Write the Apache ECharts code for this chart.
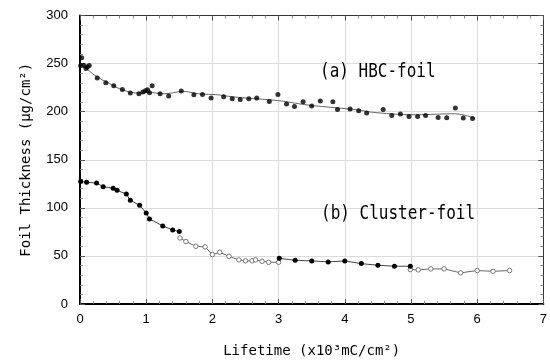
<!DOCTYPE html>
<html><head><meta charset="utf-8">
<script src="https://cdn.jsdelivr.net/npm/echarts@6/dist/echarts.min.js"></script>
<style>html,body{margin:0;padding:0;background:#fff}#c{width:550px;height:363px}</style>
</head><body><div id="c"></div>
<script>
// (a) HBC-foil measured points
const hbcX = [0.025,0.01,0.06,0.09,0.11,0.14,0.26,0.39,0.51,0.64,0.76,0.89,0.95,0.99,1.02,1.05,1.09,1.21,1.34,1.53,1.72,1.85,1.98,2.17,2.30,2.42,2.55,2.67,2.86,2.99,3.12,3.24,3.37,3.50,3.63,3.82,3.89,4.08,4.21,4.33,4.58,4.71,4.84,4.97,5.10,5.22,5.41,5.54,5.67,5.79,5.93];
const hbcY = [256,248,248,245,246.5,248,235,230,227,223,219.3,218.6,220.4,221.7,222.7,219.6,227,218.6,216.2,221.4,217.5,217.9,214.1,215.5,213.4,212.7,213.4,214.1,210.6,217.9,207.9,205.4,210.3,205.8,211,210.3,202.3,202.7,201,198.5,202.3,196,197.5,195,195,196,194,193.7,203.7,193.4,193];
// (a) fitted curve
const fitX = [0,0.11,0.22,0.45,0.67,0.89,1.04,1.27,1.56,1.79,2.09,2.24,2.53,2.98,3.43,3.87,4.17,4.47,5.07,5.66,5.96];
const fitY = [249,244,238,229,222,219.3,220,218.6,221,218.6,217.5,216,214,211.6,207,204,202,199,196.8,197.8,193.3];
// (b) Cluster-foil, filled segments
const cf1X = [0.01,0.10,0.25,0.35,0.50,0.56,0.70,0.76,0.90,1.00,1.05,1.25,1.40,1.50];
const cf1Y = [127.5,126.5,125.8,122,120.3,118.2,114.4,107.8,102.6,94.7,88.5,81.2,77,75.3];
const cf2X = [3.01,3.25,3.50,3.75,4.00,4.25,4.50,4.75,4.99];
const cf2Y = [47.5,45.5,44.8,43.8,44.8,42,40.3,39.3,39.3];
// (b) Cluster-foil, open segments
const co1X = [1.51,1.60,1.75,1.89,2.00,2.11,2.25,2.40,2.50,2.60,2.65,2.75,2.85,3.00];
const co1Y = [68.7,65,60,59.4,51.4,53.8,49.6,45.9,44.9,44.9,45.9,44.4,43.4,43.4];
const co2X = [4.99,5.11,5.30,5.50,5.75,6.00,6.24,6.49];
const co2Y = [35.8,35.5,36.5,36.5,32.4,34.8,34,34.8];
const xTicks = ['0','1','2','3','4','5','6','7'];
const yTicks = ['0','50','100','150','200','250','300'];

const zip = (a,b) => a.map((v,i)=>[v,b[i]]);
const chart = echarts.init(document.getElementById('c'), null, {renderer:'canvas'});
const mono = 'DejaVu Sans Mono';
const tickFont = {color:'#000', fontFamily:'Liberation Sans, Arial', fontSize:13};
chart.setOption({
  animation:false,
  backgroundColor:'#fff',
  grid:{left:80, right:0.5, top:15.5, bottom:57.5},
  xAxis:[{
    type:'value', min:0, max:7, interval:1,
    name:'Lifetime (x10³mC/cm²)', nameLocation:'middle', nameGap:40,
    nameTextStyle:{fontFamily:mono, fontSize:14, color:'#000'},
    axisLine:{show:true, onZero:false, lineStyle:{color:'#000', width:2}},
    axisTick:{show:true, inside:true, length:5, lineStyle:{color:'#555'}},
    minorTick:{show:true, splitNumber:5, length:3, lineStyle:{color:'#888'}},
    axisLabel:Object.assign({margin:9, formatter:v=>xTicks[v]}, tickFont),
    splitLine:{show:true, lineStyle:{color:'#dcdcdc', width:1}}
  },{
    type:'value', min:0, max:7, interval:1, position:'top',
    axisLine:{show:true, onZero:false, lineStyle:{color:'#333', width:1}},
    axisTick:{show:true, inside:true, length:5, lineStyle:{color:'#555'}},
    minorTick:{show:true, splitNumber:5, length:3, lineStyle:{color:'#888'}},
    axisLabel:{show:false}, splitLine:{show:false}
  }],
  yAxis:[{
    type:'value', min:0, max:300, interval:50,
    name:'Foil Thickness (μg/cm²)', nameLocation:'middle', nameGap:47, nameRotate:90,
    nameTextStyle:{fontFamily:mono, fontSize:14, color:'#000'},
    axisLine:{show:true, onZero:false, lineStyle:{color:'#000', width:2}},
    axisTick:{show:true, inside:true, length:5, lineStyle:{color:'#555'}},
    minorTick:{show:true, splitNumber:5, length:3, lineStyle:{color:'#888'}},
    axisLabel:Object.assign({margin:12, formatter:v=>yTicks[v/50]}, tickFont),
    splitLine:{show:true, lineStyle:{color:'#dcdcdc', width:1}}
  },{
    type:'value', min:0, max:300, interval:50, position:'right',
    axisLine:{show:true, onZero:false, lineStyle:{color:'#333', width:1}},
    axisTick:{show:true, inside:true, length:5, lineStyle:{color:'#555'}},
    minorTick:{show:true, splitNumber:5, length:3, lineStyle:{color:'#888'}},
    axisLabel:{show:false}, splitLine:{show:false}
  }],
  graphic:[
    {type:'text', left:320, top:62, scaleY:1.2, z:100, style:{text:'(a) HBC-foil', font:'16px "DejaVu Sans Mono"', fill:'#000'}},
    {type:'text', left:321, top:204, scaleY:1.2, z:100, style:{text:'(b) Cluster-foil', font:'16px "DejaVu Sans Mono"', fill:'#000'}}
  ],
  series:[
    {type:'line', name:'HBC fit', data:zip(fitX,fitY), smooth:0.4, showSymbol:false, symbol:'none',
     lineStyle:{color:'#666', width:1}, z:2},
    {type:'scatter', name:'HBC-foil', data:zip(hbcX,hbcY), symbol:'circle', symbolSize:5,
     itemStyle:{color:'#000'}, z:3},
    {type:'line', name:'Cluster open 1', data:zip(co1X,co1Y), symbol:'circle', symbolSize:4.5, showAllSymbol:true,
     lineStyle:{color:'#666', width:1}, itemStyle:{color:'#fff', borderColor:'#777', borderWidth:1}},
    {type:'line', name:'Cluster open 2', data:zip(co2X,co2Y), symbol:'circle', symbolSize:4.5, showAllSymbol:true,
     lineStyle:{color:'#666', width:1}, itemStyle:{color:'#fff', borderColor:'#777', borderWidth:1}},
    {type:'line', name:'Cluster filled 1', data:zip(cf1X,cf1Y), symbol:'circle', symbolSize:5, showAllSymbol:true,
     lineStyle:{color:'#444', width:1}, itemStyle:{color:'#000'}},
    {type:'line', name:'Cluster filled 2', data:zip(cf2X,cf2Y), symbol:'circle', symbolSize:5, showAllSymbol:true,
     lineStyle:{color:'#444', width:1}, itemStyle:{color:'#000'}}
  ]
});
</script></body></html>
